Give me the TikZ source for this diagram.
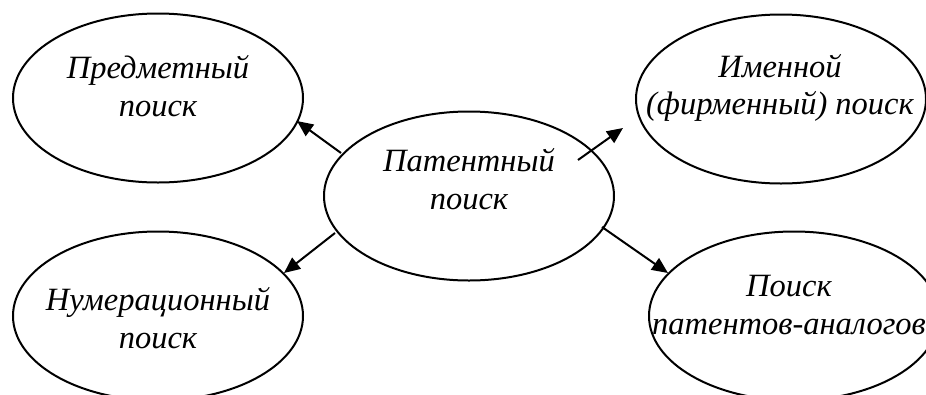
\documentclass[tikz,border=0pt]{standalone}
\usepackage{fontspec}
\setmainfont{Liberation Serif}
\usetikzlibrary{arrows.meta,shapes.geometric}
\begin{document}
\begin{tikzpicture}[x=1pt,y=-1pt,
  oval/.style={draw,line width=2pt,ellipse,minimum width=290pt,minimum height=169pt,inner sep=0pt},
  lbl/.style={align=center,font=\fontsize{32.5}{37.5}\selectfont\itshape},
  arr/.style={line width=2pt,-{Triangle[length=16pt,width=14pt]}}]
\useasboundingbox (0,0) rectangle (926,394);
\clip (0,0) rectangle (926,394);
\node[oval] (e1) at (158,98) {};
\node[oval] (e0) at (469,196) {};
\node[oval] (e2) at (781,99) {};
\node[oval] (e3) at (158,316) {};
\node[oval] (e4) at (794,316) {};
\node[lbl] (t1) at (158,86) {Предметный\\поиск};
\node[lbl] (t0) at (469,179) {Патентный\\поиск};
\node[lbl] (t2) at (780,88) {Именной\\(фирменный) поиск};
\node[lbl] (t3) at (158,318) {Нумерационный\\поиск};
\node[lbl] (t4) at (789,305) {Поиск\\патентов-аналогов};
\coordinate (a1s) at (341,153); \coordinate (a1e) at (297,121);
\coordinate (a2s) at (578,160); \coordinate (a2e) at (623,128);
\coordinate (a3s) at (335,233); \coordinate (a3e) at (284,273);
\coordinate (a4s) at (602,227); \coordinate (a4e) at (668,273);
\draw[arr] (a1s) -- (a1e);
\draw[arr] (a2s) -- (a2e);
\draw[arr] (a3s) -- (a3e);
\draw[arr] (a4s) -- (a4e);
\end{tikzpicture}
\end{document}
